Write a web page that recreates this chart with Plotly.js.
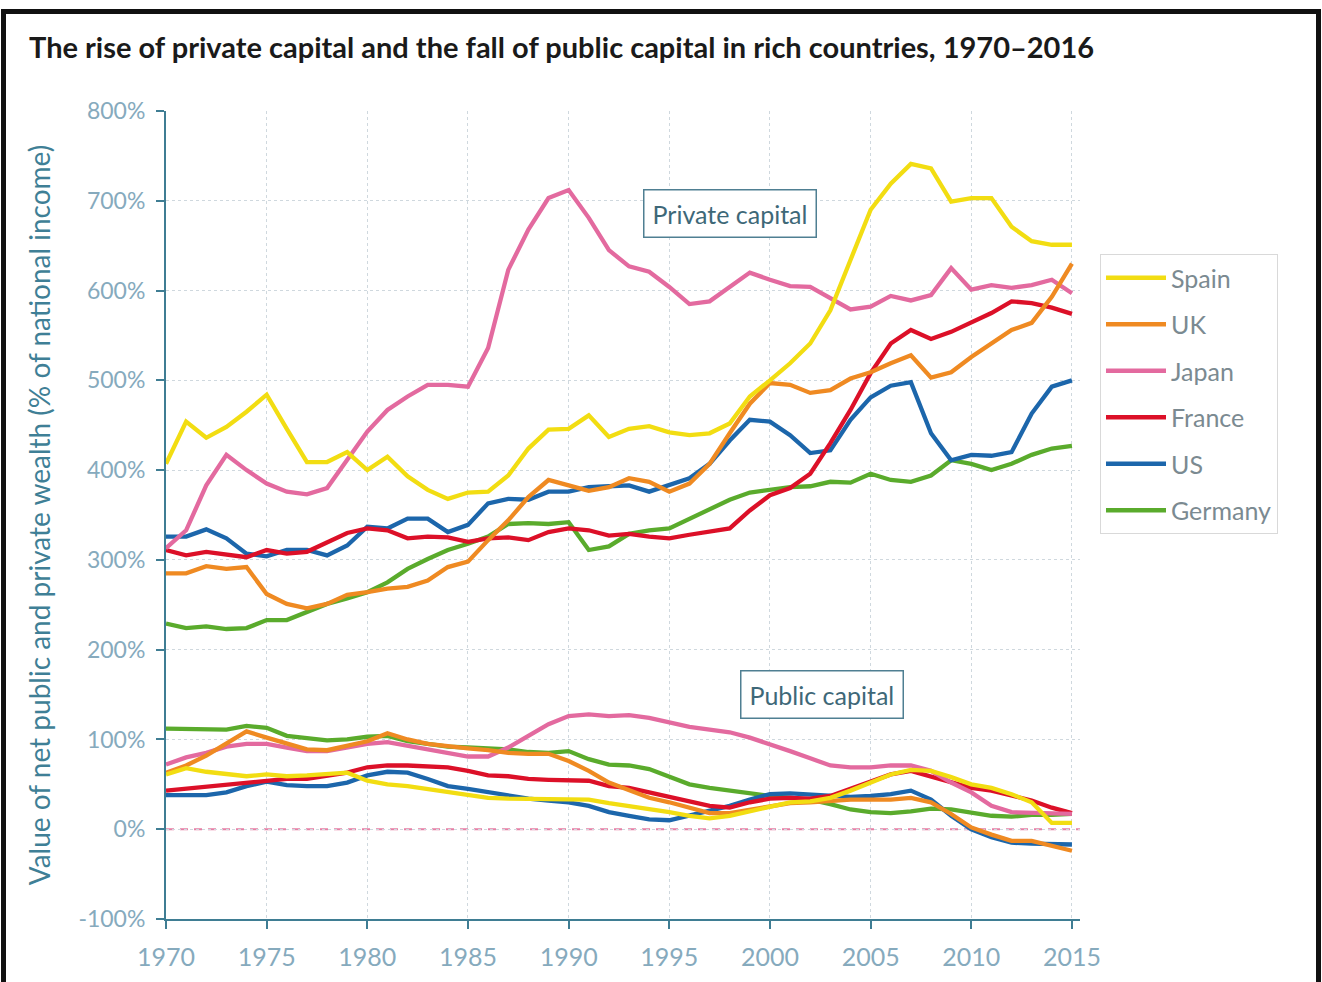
<!DOCTYPE html>
<html>
<head>
<meta charset="utf-8">
<script src="https://cdn.plot.ly/plotly-3.0.1.min.js"></script>
<style>
  html, body { margin: 0; padding: 0; background: #ffffff; }
  #wrap { position: relative; width: 1322px; height: 982px; overflow: hidden; }
  #chart { position: absolute; left: 0; top: 0; width: 1322px; height: 982px; }
  #frame { position: absolute; left: 1px; top: 9px; width: 1310px; height: 1000px;
           border: 5px solid #111; border-bottom: none; pointer-events: none; }
</style>
</head>
<body>
<div id="wrap">
  <div id="chart"></div>
  <div id="frame"></div>
</div>
<script>
const years = [];
for (let y = 1970; y <= 2015; y++) years.push(y);

const countries = ["Spain", "UK", "Japan", "France", "US", "Germany"];

const spainPrivate = [407,454,436,448,465,484,446,409,409,420, 400,415,393,378,368,375,376,394,424,445, 446,461,437,446,449,442,439,441,452,482, 500,519,541,578,634,690,719,741,736,699, 703,703,671,655,651,651];
const ukPrivate = [285,285,293,290,292,262,251,246,251,261, 264,268,270,277,292,298,322,344,370,389, 383,377,381,391,387,376,385,407,441,474, 497,495,486,489,502,509,519,528,503,509, 526,541,556,564,593,630];
const japanPrivate = [313,333,383,417,400,385,376,373,380,411, 443,467,482,495,495,493,536,623,668,703, 712,681,645,627,621,604,585,588,604,620, 612,605,604,591,579,582,594,589,595,625, 601,606,603,606,612,597];
const francePrivate = [311,305,309,306,303,311,307,309,320,330, 335,333,324,326,325,320,324,325,322,331, 335,333,327,329,326,324,328,331,335,355, 372,380,396,430,467,508,541,556,546,554, 564,575,588,586,581,574];
const usPrivate = [326,326,334,324,307,304,311,311,305,316, 337,335,346,346,331,339,363,368,367,376, 376,381,382,383,376,383,391,407,433,456, 454,439,419,422,456,481,494,498,441,411, 417,416,420,463,493,500];
const germanyPrivate = [229,224,226,223,224,233,233,242,251,257, 264,275,290,301,311,318,326,340,341,340, 342,311,315,329,333,335,346,357,367,375, 378,381,382,387,386,396,389,387,394,411, 407,400,407,417,424,427];

const spainPublic = [61,68,64,61,59,61,59,60,61,63, 54,50,48,45,42,39,35,34,34,33, 33,33,29,26,22,19,15,12,15,20, 26,30,31,35,43,52,61,66,65,58, 50,46,39,30,7,7];
const ukPublic = [63,71,82,95,109,102,95,89,88,93, 98,107,100,95,92,90,88,85,84,84, 76,65,52,43,35,30,24,18,18,22, 26,29,30,32,33,33,33,35,30,17, 2,-6,-13,-13,-19,-24];
const japanPublic = [72,80,85,92,95,95,91,87,87,91, 95,97,93,89,84,81,81,91,104,117, 126,128,126,127,124,119,114,111,108,102, 95,87,79,71,69,69,71,71,65,52, 41,26,19,18,18,17];
const francePublic = [43,45,48,49,51,54,56,56,59,63, 69,71,71,70,69,65,60,59,56,55, 55,54,48,46,41,36,30,26,24,30, 34,35,34,37,45,53,61,65,59,52, 46,43,37,32,24,18];
const usPublic = [38,38,38,41,48,53,49,48,48,52, 60,64,63,56,48,45,41,37,34,32, 30,26,19,15,11,10,15,20,26,33, 39,40,39,37,36,37,39,43,33,15, 0,-9,-15,-16,-16,-17];
const germanyPublic = [112,112,112,111,115,113,104,101,99,100, 103,104,98,95,92,91,90,89,86,85, 87,78,72,71,67,59,50,46,43,39, 37,35,33,28,22,19,18,20,23,22, 18,15,14,16,16,17];

const yTickVals = [-100,0,100,200,300,400,500,600,700,800];
const yTickText = ["-100%","0%","100%","200%","300%","400%","500%","600%","700%","800%"];
const xTickVals = [1970,1975,1980,1985,1990,1995,2000,2005,2010,2015];

const colors = {
  Spain: "#f2dd12", UK: "#ef8a22", Japan: "#e36a9f",
  France: "#dc1028", US: "#1c66ab", Germany: "#5aab2c"
};
const privateData = { Spain: spainPrivate, UK: ukPrivate, Japan: japanPrivate, France: francePrivate, US: usPrivate, Germany: germanyPrivate };
const publicData = { Spain: spainPublic, UK: ukPublic, Japan: japanPublic, France: francePublic, US: usPublic, Germany: germanyPublic };

// draw order (bottom to top)
const drawOrder = ["Germany", "US", "France", "Japan", "UK", "Spain"];
const traces = [];
drawOrder.forEach(c => {
  const rank = countries.indexOf(c) + 1;
  traces.push({
    x: years, y: privateData[c], type: "scatter", mode: "lines", name: c,
    legendgroup: c, showlegend: true, legendrank: rank,
    line: { color: colors[c], width: 4.3 }, hoverinfo: "x+y+name"
  });
  traces.push({
    x: years, y: publicData[c], type: "scatter", mode: "lines", name: c,
    legendgroup: c, showlegend: false, legendrank: rank,
    line: { color: colors[c], width: 4.3 }, hoverinfo: "x+y+name"
  });
});

const axisColor = "#3f7d93";
const FONT = "Lato, 'Open Sans', sans-serif";

const layout = {
  width: 1322, height: 982,
  margin: { l: 166, r: 242, t: 111, b: 63 },
  paper_bgcolor: "#ffffff", plot_bgcolor: "#ffffff",
  font: { family: FONT },
  title: {
    text: "<b>The rise of private capital and the fall of public capital in rich countries, 1970–2016</b>",
    font: { family: FONT, size: 29, color: "#1a1a1a" },
    x: 29 / 1322, xref: "container", xanchor: "left",
    y: 1 - 48 / 982, yref: "container", yanchor: "middle"
  },
  xaxis: {
    range: [1970, 2015.4], tickvals: xTickVals, ticktext: xTickVals.map(String),
    showline: true, linecolor: axisColor, linewidth: 2,
    ticks: "outside", ticklen: 8, tickwidth: 2, tickcolor: axisColor,
    showgrid: true, gridcolor: "#cfd8de", griddash: "dot", gridwidth: 1,
    zeroline: false, tickfont: { family: FONT, size: 25, color: "#86aabd" },
    ticklabelstandoff: 7, fixedrange: true
  },
  yaxis: {
    range: [-100, 800], tickvals: yTickVals, ticktext: yTickText,
    showline: true, linecolor: axisColor, linewidth: 2,
    ticks: "outside", ticklen: 8, tickwidth: 2, tickcolor: axisColor,
    showgrid: true, gridcolor: "#cfd8de", griddash: "dot", gridwidth: 1,
    zeroline: false, tickfont: { family: FONT, size: 23, color: "#86aabd" }, ticklabelstandoff: 6,
    title: { text: "Value of net public and private wealth (% of national income)",
             font: { family: FONT, size: 28, color: "#3f7f96" }, standoff: 20 },
    fixedrange: true
  },
  legend: {
    x: (1100 - 166) / 914, xanchor: "left",
    y: (919 - 254) / 808, yanchor: "top",
    bordercolor: "#d9d9d9", borderwidth: 1, bgcolor: "#ffffff",
    font: { family: FONT, size: 25, color: "#7b8a91" },
    tracegroupgap: 11, traceorder: "grouped",
    itemwidth: 60
  },
  shapes: [
    { type: "line", xref: "paper", x0: 0, x1: 1, yref: "y", y0: 0, y1: 0,
      line: { color: "#e67fa5", width: 2, dash: "8px,6px" }, layer: "below" }
  ],
  annotations: [
    { x: 1998, y: 686, xref: "x", yref: "y", text: "Private capital", showarrow: false,
      font: { family: FONT, size: 25, color: "#3e6878" },
      bordercolor: "#4f7f92", borderwidth: 1.5, borderpad: 8, bgcolor: "#ffffff" },
    { x: 2002.6, y: 150, xref: "x", yref: "y", text: "Public capital", showarrow: false,
      font: { family: FONT, size: 25, color: "#3e6878" },
      bordercolor: "#4f7f92", borderwidth: 1.5, borderpad: 8, bgcolor: "#ffffff" }
  ],
  showlegend: true,
  hovermode: "closest"
};

Plotly.newPlot("chart", traces, layout, { displayModeBar: false, responsive: false });
</script>
</body>
</html>
